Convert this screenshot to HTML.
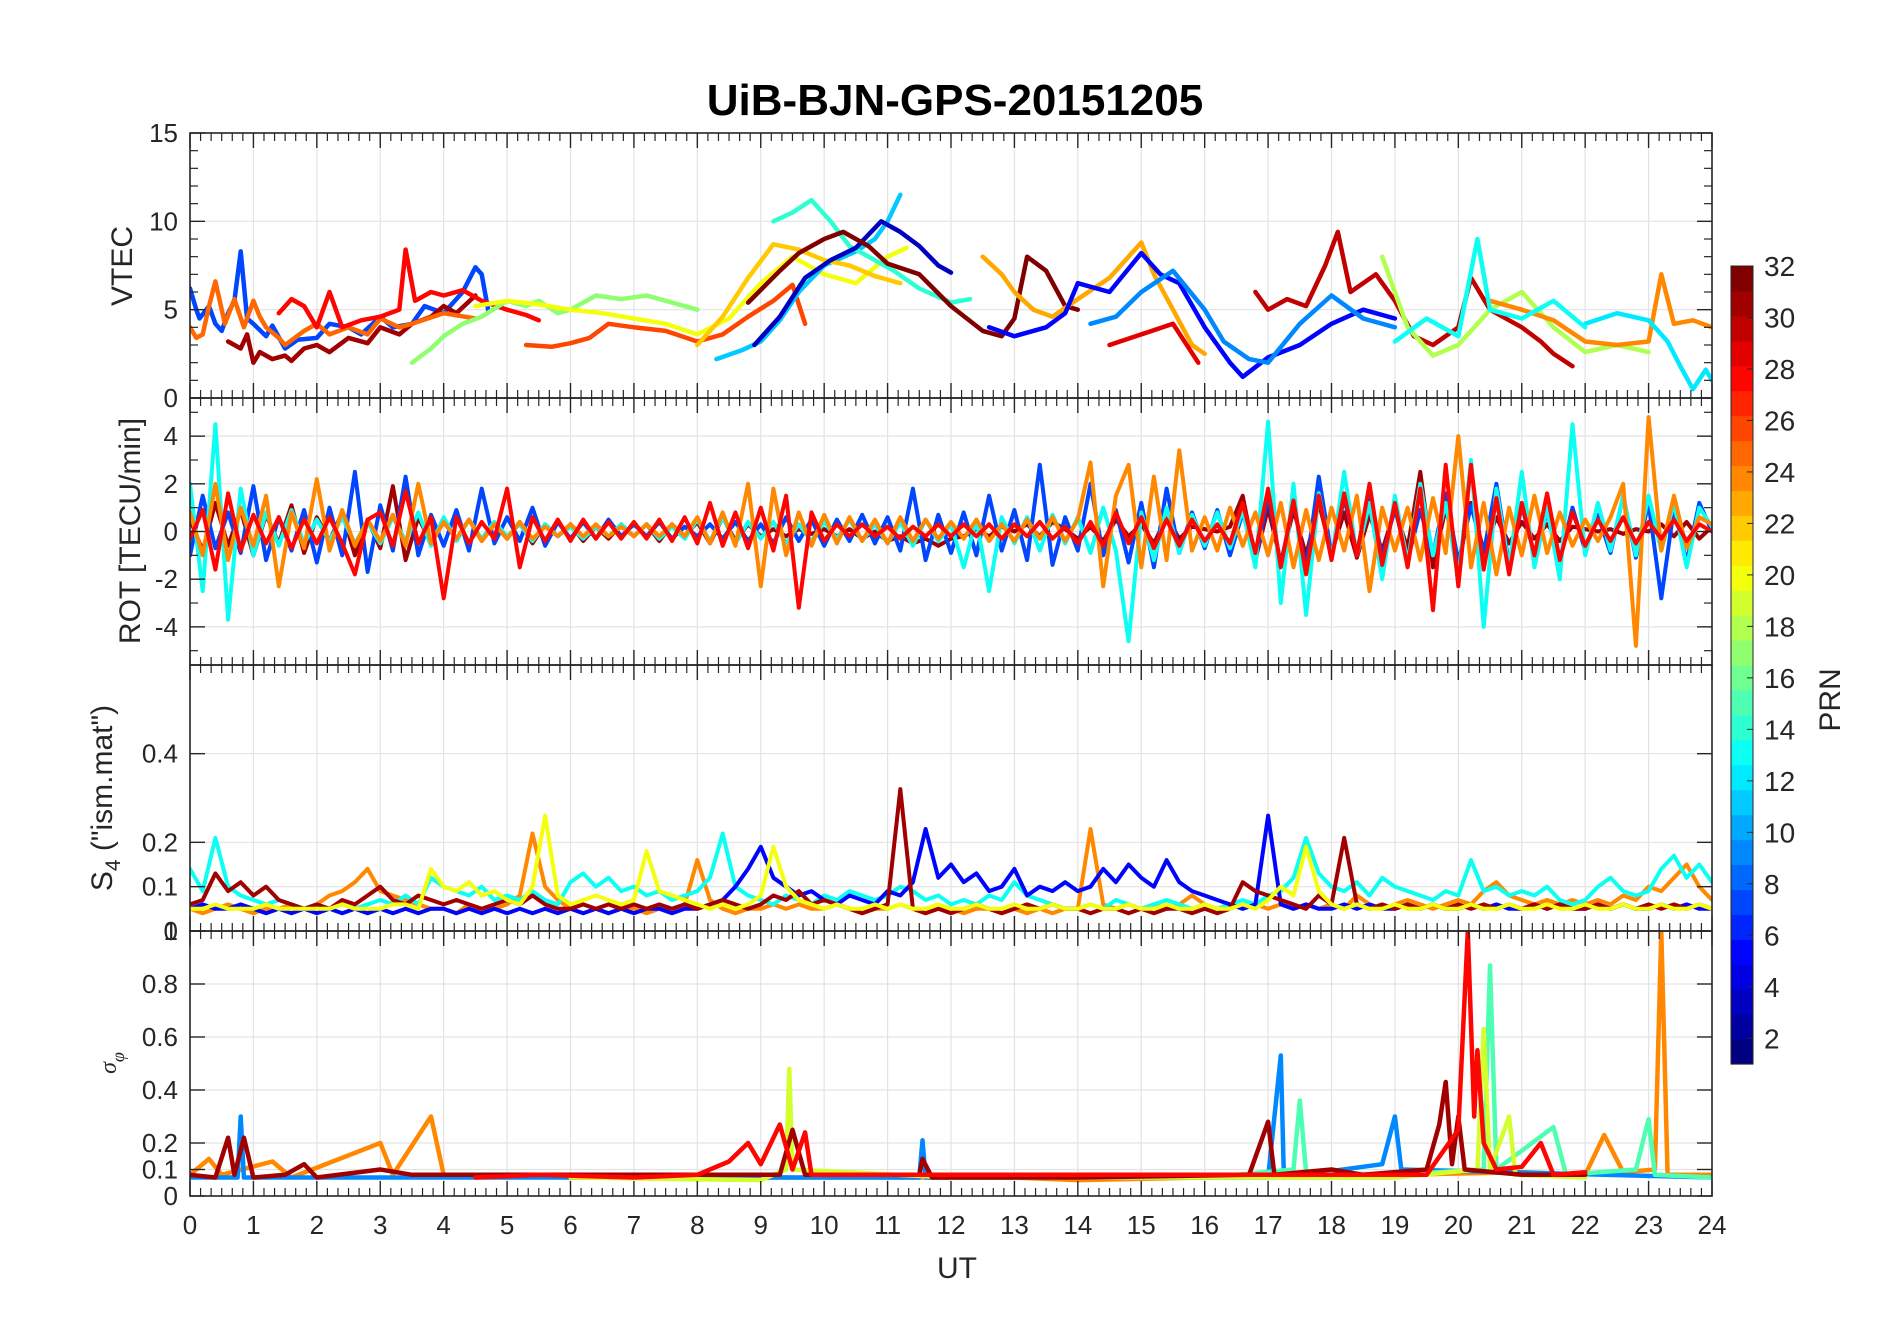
<!DOCTYPE html>
<html><head><meta charset="utf-8"><title>UiB-BJN-GPS-20151205</title>
<style>
html,body{margin:0;padding:0;background:#fff;}
svg{display:block;font-family:"Liberation Sans",Arial,sans-serif;}
</style></head>
<body>
<svg id="chart" xmlns="http://www.w3.org/2000/svg" width="1902" height="1330" viewBox="0 0 1902 1330">
<rect x="0" y="0" width="1902" height="1330" fill="#fff"/>
<text x="955" y="115" text-anchor="middle" font-size="44" font-weight="bold" fill="#000">UiB-BJN-GPS-20151205</text>
<g id="panels"></g>
</svg>
<script>
// ---------- data ----------
const xTicks = [0,1,2,3,4,5,6,7,8,9,10,11,12,13,14,15,16,17,18,19,20,21,22,23,24];
const vtecTicks = [0,5,10,15];
const rotTicks = [-4,-2,0,2,4];
const s4Ticks = [0,0.1,0.2,0.4];
const sigTicks = [0,0.1,0.2,0.4,0.6,0.8,1];
const cbTicks = [2,4,6,8,10,12,14,16,18,20,22,24,26,28,30,32];

// VTEC series: PRN list and [hour, TECU] points
const vtecPrn = [7,31,25,28,17,20,26,11,14,22,3,32,23,5,9,29,30,18,24,12,13];
const vtecPts = [
 [[0,6.2],[0.1,5],[0.15,4.5],[0.3,5.2],[0.4,4.2],[0.5,3.8],[0.6,4.8],[0.7,5.5],[0.8,8.3],[0.9,4.5],[1,4.2],[1.2,3.5],[1.3,4.1],[1.5,2.8],[1.7,3.3],[2,3.4],[2.2,4.2],[2.5,4],[2.7,3.6],[3,4.6],[3.2,4],[3.5,4.2],[3.7,5.2],[4,4.8],[4.3,6],[4.5,7.4],[4.6,7],[4.7,5]],
 [[0.6,3.2],[0.8,2.8],[0.9,3.6],[1,2],[1.1,2.6],[1.3,2.2],[1.5,2.4],[1.6,2.1],[1.8,2.8],[2,3],[2.2,2.6],[2.5,3.4],[2.8,3.1],[3,4],[3.3,3.6],[3.5,4.2],[3.8,4.6],[4,5.2],[4.2,4.8],[4.5,5.8]],
 [[0,4],[0.1,3.4],[0.2,3.6],[0.3,5.2],[0.4,6.6],[0.55,4.2],[0.7,5.6],[0.85,4],[1,5.5],[1.1,4.6],[1.2,4],[1.4,3.4],[1.5,3],[1.8,3.8],[2,4.2],[2.2,3.6],[2.5,4],[2.8,3.6],[3,4.5],[3.3,4],[3.5,4.2],[4,4.8],[4.5,4.5]],
 [[1.4,4.8],[1.6,5.6],[1.8,5.2],[2,4],[2.2,6],[2.4,4],[2.7,4.4],[3,4.6],[3.3,5],[3.4,8.4],[3.55,5.5],[3.8,6],[4,5.8],[4.3,6.1],[4.6,5.5],[5,5],[5.3,4.7],[5.5,4.4]],
 [[3.5,2],[3.8,2.8],[4,3.5],[4.3,4.2],[4.6,4.6],[5,5.5],[5.3,5.2],[5.5,5.5],[5.8,4.8],[6,5],[6.4,5.8],[6.8,5.6],[7.2,5.8],[7.6,5.4],[8,5]],
 [[4.5,5.2],[5,5.5],[5.5,5.3],[6,5],[6.5,4.8],[7,4.5],[7.5,4.2],[8,3.6],[8.5,4.5],[9,6.5],[9.5,8],[10,7],[10.5,6.5],[11,8],[11.3,8.5]],
 [[5.3,3],[5.7,2.9],[6,3.1],[6.3,3.4],[6.6,4.2],[7,4],[7.5,3.8],[8,3.2],[8.4,3.6],[8.8,4.6],[9.2,5.5],[9.5,6.4],[9.7,4.2]],
 [[8.3,2.2],[8.7,2.7],[9,3.2],[9.3,4.4],[9.6,6],[10,7.5],[10.5,8.3],[10.8,9],[11,10],[11.2,11.5]],
 [[9.2,10],[9.5,10.5],[9.8,11.2],[10.1,10],[10.4,8.6],[10.8,7.8],[11.1,7.2],[11.5,6.2],[12,5.4],[12.3,5.6]],
 [[8,3],[8.4,4.6],[8.8,6.8],[9.2,8.7],[9.6,8.4],[10,7.8],[10.4,7.5],[10.8,6.9],[11.2,6.5]],
 [[8.9,3],[9.3,4.6],[9.7,6.8],[10.1,7.8],[10.5,8.5],[10.9,10],[11.2,9.4],[11.5,8.6],[11.8,7.5],[12,7.1]],
 [[8.8,5.4],[9.3,7.2],[9.6,8.2],[10,9],[10.3,9.4],[10.7,8.6],[11,7.6],[11.5,7],[12,5.2],[12.5,3.8],[12.8,3.5],[13,4.5],[13.2,8],[13.5,7.2],[13.8,5.2],[14,5]],
 [[12.5,8],[12.8,7],[13,6],[13.3,5],[13.6,4.6],[14,5.6],[14.5,6.8],[15,8.8],[15.2,7],[15.5,5],[15.8,3],[16,2.5]],
 [[12.6,4],[13,3.5],[13.5,4],[13.8,4.8],[14,6.5],[14.5,6],[15,8.2],[15.3,7],[15.6,6.5],[16,4],[16.4,2],[16.6,1.2],[17,2.3],[17.5,3],[18,4.2],[18.5,5],[19,4.5]],
 [[14.2,4.2],[14.6,4.6],[15,6],[15.5,7.2],[16,5],[16.3,3.2],[16.7,2.2],[17,2],[17.5,4.2],[18,5.8],[18.5,4.5],[19,4]],
 [[14.5,3],[15,3.6],[15.5,4.2],[15.9,2]],
 [[16.8,6],[17,5],[17.3,5.6],[17.6,5.2],[17.9,7.5],[18.1,9.4],[18.3,6],[18.7,7],[19,5.5],[19.3,3.5],[19.6,3],[20,4],[20.2,6.8],[20.5,5],[21,4],[21.3,3.2],[21.5,2.5],[21.8,1.8]],
 [[18.8,8],[19.2,4],[19.6,2.4],[20,3],[20.5,5],[21,6],[21.5,4],[22,2.6],[22.5,3],[23,2.6]],
 [[20.5,5.5],[21,5],[21.5,4.4],[22,3.2],[22.5,3],[23,3.2],[23.2,7],[23.4,4.2],[23.7,4.4],[24,4]],
 [[22,4.2],[22.5,4.8],[23,4.4],[23.3,3.2],[23.5,1.8],[23.7,0.5],[23.9,1.6],[24,1]],
 [[19,3.2],[19.5,4.5],[20,3.5],[20.3,9],[20.5,5],[21,4.5],[21.5,5.5],[22,4]]
];

// ROT series: start hour, step (h) and values (TECU/min)
const rotPrn = [31,7,13,24,28];
const rotStart = 0;
const rotStep = 0.2;
const rotVals = [
 [0.5,-0.8,1.2,-0.6,0.9,-1.0,0.7,-0.5,1.1,-0.9,0.6,-0.4,0.8,-1.0,0.5,-0.7,1.9,-1.2,0.6,-0.5,0.4,-0.3,0.5,-0.4,0.3,-0.3,0.4,-0.5,0.3,-0.2,0.3,-0.4,0.2,-0.3,0.3,-0.2,0.3,-0.4,0.3,-0.2,0.4,-0.5,0.6,-0.4,0.3,-0.2,0.1,-0.2,0.1,-0.1,0.1,-0.2,0.1,-0.3,0.0,-0.4,-0.2,-0.5,-0.3,-0.6,-0.3,-0.2,0.1,-0.2,0.2,0.0,0.3,-0.2,0.4,0.1,-0.3,0.2,-0.4,0.5,-0.2,0.3,-0.5,0.6,-0.3,0.2,0.1,0.0,0.2,1.5,-1.2,1.0,-1.3,0.9,-1.0,1.2,-0.9,0.8,-1.1,0.7,-0.8,0.9,-0.7,2.5,-1.5,1.0,-1.4,1.2,-0.8,0.6,-0.5,0.4,-0.3,0.3,-0.4,0.2,0.1,0.0,0.1,-0.1,0.1,0.0,0.3,-0.2,0.4,-0.3,0.2],
 [-1.0,1.5,-0.7,0.8,-0.9,1.9,-1.2,0.6,-0.8,0.9,-1.3,1.0,-1.0,2.5,-1.7,1.1,-0.8,2.3,-1.0,0.7,-0.6,0.9,-0.8,1.8,-0.5,0.6,-0.4,1.0,-0.6,0.4,-0.3,0.4,-0.3,0.5,-0.2,0.3,-0.2,0.4,-0.3,0.2,-0.2,0.3,-0.3,0.4,-0.4,0.3,-0.5,0.6,-0.4,0.5,-0.6,0.5,-0.4,0.7,-0.5,0.6,-0.8,1.8,-1.2,0.7,-0.9,0.8,-1.0,1.5,-0.8,0.9,-1.2,2.8,-1.4,0.6,-0.8,2.0,-1.0,0.9,-1.3,1.2,-1.5,1.8,-0.9,0.8,-0.7,0.9,-1.0,0.8,-1.2,1.5,-1.4,1.2,-1.6,2.3,-1.0,1.4,-0.9,1.7,-1.1,1.0,-1.2,0.9,-1.0,1.6,-1.3,1.1,-0.9,2.0,-1.4,1.1,-1.0,0.8,-1.2,1.0,-0.8,0.7,-0.9,1.5,-1.1,1.2,-2.8,1.0,-1.3,1.2,0.0],
 [2.0,-2.5,4.5,-3.7,1.8,-1.0,0.8,-0.6,0.9,-0.5,0.5,-0.4,0.6,-0.5,0.4,-0.5,0.6,-0.4,0.8,-0.6,0.6,-0.4,0.5,-0.3,0.4,-0.2,0.3,-0.4,0.3,-0.2,0.2,-0.3,0.2,-0.2,0.3,-0.2,0.3,-0.3,0.2,-0.3,0.5,-0.4,0.6,-0.5,0.4,-0.3,0.4,-0.5,0.3,-0.4,0.4,-0.3,0.5,-0.4,0.3,-0.5,0.4,-0.6,0.5,-0.4,0.3,-1.5,0.5,-2.5,0.6,-0.5,0.6,-0.8,0.7,-0.5,0.6,-0.9,1.0,-0.8,-4.6,0.8,-1.2,1.0,-0.9,0.7,-0.6,0.8,-0.7,0.9,-1.5,4.6,-3.0,2.0,-3.5,1.6,-1.2,2.5,-1.0,1.2,-2.0,1.5,-1.3,2.0,-1.0,1.2,-2.0,3.0,-4.0,1.8,-1.5,2.5,-1.5,1.0,-2.0,4.5,-1.0,1.2,-0.8,1.5,-1.0,1.5,-0.8,1.2,-1.5,1.0,0.2],
 [0.8,-1.0,2.0,-1.2,1.0,-0.6,1.5,-2.3,0.8,-0.7,2.2,-0.8,0.9,-0.6,0.5,-0.4,0.7,-0.6,2.0,-0.5,0.4,-0.3,0.5,-0.4,0.3,-0.3,0.4,-0.3,0.2,-0.2,0.3,-0.2,0.3,-0.2,0.2,-0.2,0.3,-0.2,0.3,-0.2,0.6,-0.5,0.8,-0.6,2.0,-2.3,1.8,-1.0,0.8,-0.6,0.7,-0.5,0.6,-0.4,0.5,-0.5,0.6,-0.4,0.5,-0.3,0.4,-0.3,0.5,-0.4,0.3,-0.4,0.5,-0.3,0.6,-0.4,0.5,2.9,-2.3,1.5,2.8,-1.5,2.3,-1.2,3.4,-0.8,0.6,-0.8,1.0,-0.6,0.8,-1.0,1.2,-1.5,0.9,-1.2,1.0,-0.8,1.5,-2.5,1.0,-0.8,1.0,-1.2,1.4,-0.9,4.0,-1.5,1.2,-1.8,1.0,-1.0,1.5,-0.9,0.8,-0.6,0.5,-0.4,0.6,2.0,-4.8,4.8,-0.8,1.5,-0.7,0.6,0.3],
 [-0.3,0.9,-1.6,1.6,-0.8,0.7,-0.5,0.6,-0.7,0.5,-0.5,0.6,-0.5,-1.8,0.5,0.8,-0.6,1.7,-0.5,0.6,-2.8,0.6,-0.5,0.4,-0.3,1.8,-1.5,0.6,-0.4,0.5,-0.4,0.5,-0.3,0.4,-0.3,0.4,-0.3,0.5,-0.4,0.6,-0.5,1.2,-0.6,0.8,-0.7,1.0,-0.8,1.5,-3.2,0.8,-0.4,0.3,-0.2,0.3,-0.2,0.2,-0.3,0.2,-0.2,0.3,-0.2,0.3,-0.2,0.3,-0.3,0.3,-0.2,0.4,-0.3,0.2,-0.5,0.4,-0.6,0.8,-0.5,0.6,-0.7,0.5,-0.6,0.5,-0.4,0.3,-0.5,1.2,-0.9,1.8,-1.5,1.3,-1.8,1.5,-1.2,1.6,-1.0,2.0,-1.4,1.2,-1.5,1.8,-3.3,2.8,-2.3,2.8,-1.6,1.4,-1.8,1.2,-1.0,1.6,-1.2,0.8,-0.6,0.5,-0.4,0.6,-0.5,0.4,-0.3,0.5,-0.4,0.3,0.0]
];

// S4 series: start hour, step (h) and values
const s4Prn = [24,13,5,31,20];
const s4Start = 0;
const s4Step = 0.2;
const s4Vals = [
 [0.05,0.04,0.05,0.06,0.05,0.04,0.05,0.05,0.06,0.05,0.06,0.08,0.09,0.11,0.14,0.09,0.08,0.07,0.06,0.05,0.05,0.04,0.06,0.05,0.05,0.06,0.08,0.22,0.10,0.07,0.05,0.06,0.05,0.04,0.05,0.05,0.04,0.05,0.05,0.06,0.16,0.07,0.05,0.04,0.05,0.05,0.06,0.05,0.06,0.05,0.05,0.06,0.05,0.04,0.05,0.05,0.06,0.05,0.04,0.05,0.05,0.04,0.05,0.05,0.04,0.05,0.04,0.05,0.04,0.05,0.05,0.23,0.06,0.05,0.06,0.05,0.06,0.05,0.06,0.08,0.06,0.05,0.06,0.05,0.06,0.05,0.06,0.05,0.06,0.05,0.06,0.05,0.08,0.06,0.05,0.06,0.07,0.06,0.05,0.06,0.07,0.06,0.09,0.11,0.08,0.07,0.06,0.07,0.06,0.07,0.06,0.07,0.06,0.08,0.07,0.10,0.09,0.12,0.15,0.10,0.07],
 [0.14,0.09,0.21,0.10,0.08,0.07,0.06,0.07,0.06,0.05,0.06,0.05,0.06,0.05,0.06,0.07,0.06,0.08,0.06,0.12,0.10,0.09,0.08,0.10,0.07,0.08,0.07,0.09,0.07,0.06,0.11,0.13,0.10,0.12,0.09,0.10,0.08,0.09,0.07,0.08,0.09,0.12,0.22,0.10,0.08,0.07,0.06,0.08,0.07,0.06,0.08,0.07,0.09,0.08,0.07,0.08,0.10,0.09,0.07,0.08,0.06,0.07,0.06,0.08,0.07,0.11,0.08,0.07,0.06,0.05,0.05,0.06,0.05,0.07,0.06,0.05,0.06,0.07,0.06,0.05,0.06,0.05,0.06,0.07,0.06,0.08,0.09,0.12,0.21,0.13,0.10,0.09,0.11,0.08,0.12,0.10,0.09,0.08,0.07,0.09,0.08,0.16,0.09,0.10,0.08,0.09,0.08,0.10,0.07,0.06,0.07,0.10,0.12,0.09,0.08,0.09,0.14,0.17,0.12,0.15,0.11],
 [0.05,0.06,0.05,0.05,0.06,0.05,0.04,0.05,0.04,0.05,0.04,0.05,0.04,0.05,0.04,0.05,0.04,0.05,0.04,0.05,0.05,0.04,0.05,0.04,0.05,0.04,0.05,0.04,0.05,0.04,0.05,0.04,0.05,0.04,0.05,0.04,0.05,0.05,0.04,0.05,0.05,0.06,0.07,0.10,0.14,0.19,0.12,0.10,0.08,0.09,0.07,0.06,0.08,0.07,0.06,0.09,0.08,0.11,0.23,0.12,0.15,0.11,0.13,0.09,0.10,0.14,0.08,0.10,0.09,0.11,0.09,0.10,0.14,0.11,0.15,0.12,0.10,0.16,0.11,0.09,0.08,0.07,0.06,0.05,0.06,0.26,0.06,0.05,0.06,0.05,0.05,0.06,0.05,0.06,0.05,0.05,0.06,0.05,0.06,0.05,0.05,0.06,0.05,0.06,0.05,0.05,0.06,0.05,0.06,0.05,0.05,0.06,0.05,0.06,0.05,0.05,0.06,0.05,0.06,0.05,0.05],
 [0.06,0.07,0.13,0.09,0.11,0.08,0.10,0.07,0.06,0.05,0.06,0.05,0.07,0.06,0.08,0.10,0.07,0.06,0.08,0.07,0.06,0.07,0.06,0.05,0.06,0.07,0.06,0.08,0.06,0.05,0.05,0.06,0.05,0.06,0.05,0.06,0.05,0.06,0.05,0.06,0.05,0.06,0.07,0.06,0.05,0.06,0.08,0.07,0.09,0.06,0.07,0.06,0.05,0.04,0.05,0.06,0.32,0.05,0.04,0.05,0.04,0.05,0.06,0.05,0.04,0.05,0.06,0.05,0.06,0.05,0.05,0.04,0.05,0.05,0.04,0.05,0.04,0.05,0.05,0.04,0.05,0.04,0.05,0.11,0.09,0.08,0.07,0.06,0.05,0.08,0.06,0.21,0.06,0.05,0.06,0.05,0.06,0.05,0.06,0.05,0.06,0.05,0.06,0.05,0.06,0.05,0.06,0.05,0.06,0.05,0.05,0.06,0.05,0.06,0.05,0.06,0.05,0.06,0.05,0.06,0.05],
 [0.05,0.05,0.06,0.05,0.05,0.05,0.06,0.05,0.05,0.05,0.05,0.05,0.06,0.05,0.05,0.05,0.06,0.06,0.05,0.14,0.10,0.09,0.11,0.08,0.09,0.07,0.06,0.10,0.26,0.08,0.06,0.07,0.08,0.07,0.06,0.07,0.18,0.09,0.08,0.07,0.06,0.05,0.06,0.05,0.06,0.08,0.19,0.10,0.07,0.06,0.05,0.06,0.05,0.05,0.06,0.05,0.06,0.05,0.05,0.06,0.05,0.05,0.06,0.05,0.05,0.06,0.05,0.05,0.06,0.05,0.05,0.06,0.05,0.05,0.06,0.05,0.05,0.06,0.05,0.05,0.06,0.05,0.05,0.06,0.05,0.07,0.10,0.08,0.19,0.09,0.06,0.05,0.06,0.05,0.05,0.06,0.05,0.05,0.06,0.05,0.05,0.06,0.05,0.05,0.06,0.05,0.05,0.06,0.05,0.05,0.06,0.05,0.05,0.06,0.05,0.05,0.06,0.05,0.05,0.06,0.05]
];

// sigma-phi series: PRN list and [hour, radians] points
const sigPrn = [24,9,15,19,31,28];
const sigPts = [
 [[0,0.08],[0.3,0.14],[0.5,0.08],[1.3,0.13],[1.6,0.07],[3,0.2],[3.2,0.08],[3.8,0.3],[4,0.08],[6,0.07],[9,0.07],[10,0.07],[13,0.07],[14,0.06],[16,0.07],[19,0.08],[21,0.09],[22,0.08],[22.3,0.23],[22.6,0.09],[23.1,0.1],[23.2,1.0],[23.3,0.08],[24,0.08]],
 [[0,0.07],[0.75,0.07],[0.8,0.3],[0.85,0.07],[3,0.07],[9,0.07],[11.5,0.07],[11.55,0.21],[11.6,0.07],[17,0.07],[17.2,0.53],[17.25,0.07],[18.8,0.12],[19,0.3],[19.1,0.1],[24,0.07]],
 [[15,0.07],[16.5,0.08],[17.4,0.1],[17.5,0.36],[17.6,0.09],[19,0.08],[20.4,0.1],[20.5,0.87],[20.6,0.1],[21.5,0.26],[21.7,0.08],[22.8,0.1],[23,0.29],[23.1,0.08],[24,0.07]],
 [[6,0.07],[9,0.06],[9.4,0.1],[9.45,0.48],[9.5,0.1],[12,0.07],[19,0.07],[20.3,0.1],[20.4,0.63],[20.5,0.1],[20.8,0.3],[20.9,0.08],[22,0.07]],
 [[0,0.08],[0.4,0.07],[0.6,0.22],[0.7,0.08],[0.85,0.22],[1,0.07],[1.5,0.08],[1.8,0.12],[2,0.07],[3,0.1],[3.5,0.08],[9.3,0.08],[9.5,0.25],[9.7,0.08],[11.5,0.08],[11.55,0.14],[11.7,0.07],[14,0.07],[16.7,0.08],[17,0.28],[17.1,0.08],[18,0.1],[18.5,0.08],[19.5,0.1],[19.7,0.27],[19.8,0.43],[19.9,0.12],[20,0.3],[20.1,0.1],[21,0.08],[22,0.08]],
 [[4.5,0.07],[5.5,0.08],[7,0.07],[8,0.08],[8.5,0.13],[8.8,0.2],[9,0.12],[9.3,0.27],[9.5,0.1],[9.7,0.24],[9.8,0.08],[15,0.08],[19.5,0.08],[20,0.25],[20.15,1.0],[20.25,0.3],[20.3,0.55],[20.4,0.2],[20.6,0.1],[21,0.11],[21.3,0.2],[21.5,0.08],[22,0.09]]
];

// ---------- rendering ----------
const NS = 'http://www.w3.org/2000/svg';
const L = 190, R = 1712;
const X = t => L + (t - 0) * (R - L) / 24;
const panels = [
 {name:'vtec', top:133, bot:398, min:0, max:15, ticks:vtecTicks, minor:[1,2,3,4,6,7,8,9,11,12,13,14]},
 {name:'rot', top:398, bot:665, min:-5.6, max:5.6, ticks:rotTicks, minor:[-5,-3,-1,1,3,5]},
 {name:'s4', top:665, bot:931, min:0, max:0.6, ticks:s4Ticks, minor:[]},
 {name:'sigma', top:931, bot:1196, min:0, max:1, ticks:sigTicks, minor:[]}
];
panels.forEach(p => { p.Y = v => p.bot - (v - p.min) * (p.bot - p.top) / (p.max - p.min); });

function jet(prn){
  const f = (prn - 1) / 31;
  const c = v => Math.round(255 * Math.max(0, Math.min(1, v)));
  return `rgb(${c(1.5-Math.abs(4*f-3))},${c(1.5-Math.abs(4*f-2))},${c(1.5-Math.abs(4*f-1))})`;
}
function mk(tag, attrs, parent){
  const e = document.createElementNS(NS, tag);
  for (const k in attrs) e.setAttribute(k, attrs[k]);
  parent.appendChild(e);
  return e;
}
const root = document.getElementById('panels');
const defs = mk('defs', {}, root);

panels.forEach((p, pi) => {
  const g = mk('g', {}, root);
  
  
  const cp = mk('clipPath', {id:'clip' + pi}, defs);
  mk('rect', {x:L, y:p.top, width:R-L, height:p.bot-p.top}, cp);
  xTicks.forEach(t => {
    const gl = mk('line', {x1:X(t), x2:X(t), y1:p.top, y2:p.bot, stroke:'#e3e3e3', 'stroke-width':1.2}, g);
    
    
  });
  p.ticks.forEach(v => {
    const gl = mk('line', {x1:L, x2:R, y1:p.Y(v), y2:p.Y(v), stroke:'#e3e3e3', 'stroke-width':1.2}, g);
    
    
  });
  const sg = mk('g', {'clip-path':'url(#clip' + pi + ')'}, g);
  
  
  p.sg = sg;
});

function drawPts(p, pts, prn, w){
  const d = pts.map(q => X(q[0]).toFixed(1) + ',' + p.Y(q[1]).toFixed(1)).join(' ');
  const pl = mk('polyline', {points:d, fill:'none', stroke:jet(prn), 'stroke-width':w, 'stroke-linejoin':'round', 'stroke-linecap':'round'}, p.sg);
  
  
}
vtecPts.forEach((pts, i) => drawPts(panels[0], pts, vtecPrn[i], 4.5));
rotVals.forEach((vals, i) => drawPts(panels[1], vals.map((v, j) => [rotStart + j * rotStep, v]), rotPrn[i], 4));
s4Vals.forEach((vals, i) => drawPts(panels[2], vals.map((v, j) => [s4Start + j * s4Step, v]), s4Prn[i], 4));
sigPts.forEach((pts, i) => drawPts(panels[3], pts, sigPrn[i], 4.5));

panels.forEach((p, pi) => {
  const g = mk('g', {}, root);
  
  
  mk('rect', {x:L, y:p.top, width:R-L, height:p.bot-p.top, fill:'none', stroke:'#262626', 'stroke-width':1.6}, g);
  xTicks.forEach(t => {
    mk('line', {x1:X(t), x2:X(t), y1:p.bot, y2:p.bot-15, stroke:'#262626', 'stroke-width':1.4}, g);
    mk('line', {x1:X(t), x2:X(t), y1:p.top, y2:p.top+15, stroke:'#262626', 'stroke-width':1.4}, g);
    if (t < 24) for (let k = 1; k < 6; k++) {
      const xm = X(t + k / 6);
      mk('line', {x1:xm, x2:xm, y1:p.bot, y2:p.bot-8, stroke:'#262626', 'stroke-width':1.2}, g);
      mk('line', {x1:xm, x2:xm, y1:p.top, y2:p.top+8, stroke:'#262626', 'stroke-width':1.2}, g);
    }
  });
  p.ticks.forEach(v => {
    mk('line', {x1:L, x2:L+15, y1:p.Y(v), y2:p.Y(v), stroke:'#262626', 'stroke-width':1.4}, g);
    mk('line', {x1:R, x2:R-15, y1:p.Y(v), y2:p.Y(v), stroke:'#262626', 'stroke-width':1.4}, g);
    const tl = mk('text', {x:178, y:p.Y(v)+9, 'text-anchor':'end', 'font-size':26, fill:'#262626'}, g);
    tl.textContent = String(v);
    
    
  });
  p.minor.forEach(v => {
    mk('line', {x1:L, x2:L+8, y1:p.Y(v), y2:p.Y(v), stroke:'#262626', 'stroke-width':1.2}, g);
    mk('line', {x1:R, x2:R-8, y1:p.Y(v), y2:p.Y(v), stroke:'#262626', 'stroke-width':1.2}, g);
  });
});
const xg = mk('g', {}, root);


xTicks.forEach(t => {
  const tl = mk('text', {x:X(t), y:1234, 'text-anchor':'middle', 'font-size':26, fill:'#262626'}, xg);
  tl.textContent = String(t);
  
  
});
const cb = mk('g', {}, root);


const cbTop = 266, cbBot = 1064, cbL = 1731, cbW = 22;
const cbY = v => cbBot - (v - 1) * (cbBot - cbTop) / 31;
for (let k = 1; k <= 32; k++) {
  const y1 = cbBot - (k - 1) * (cbBot - cbTop) / 32, y0 = cbBot - k * (cbBot - cbTop) / 32;
  mk('rect', {x:cbL, y:y0, width:cbW, height:y1 - y0 + 0.6, fill:jet(k)}, cb);
}
mk('rect', {x:cbL, y:cbTop, width:cbW, height:cbBot-cbTop, fill:'none', stroke:'#262626', 'stroke-width':1}, cb);
cbTicks.forEach(v => {
  mk('line', {x1:cbL+cbW-6, x2:cbL+cbW, y1:cbY(v), y2:cbY(v), stroke:'#262626', 'stroke-width':1}, cb);
  const tl = mk('text', {x:1764, y:cbY(v)+10, 'font-size':28, fill:'#262626'}, cb);
  tl.textContent = String(v);
  
  
});
</script>
<svg style="position:absolute;left:0;top:0" width="1902" height="1330" xmlns="http://www.w3.org/2000/svg">
<text x="957" y="1278" text-anchor="middle" font-size="30" fill="#262626">UT</text>
<text transform="translate(132,266) rotate(-90)" text-anchor="middle" font-size="30" fill="#262626">VTEC</text>
<text transform="translate(140,531) rotate(-90)" text-anchor="middle" font-size="30" fill="#262626">ROT [TECU/min]</text>
<text transform="translate(112,798) rotate(-90)" text-anchor="middle" font-size="30" fill="#262626">S<tspan font-size="21" dy="8">4</tspan><tspan dy="-8"> ("ism.mat")</tspan></text>
<text transform="translate(116,1063) rotate(-90)" text-anchor="middle" font-size="24" font-style="italic" fill="#262626" font-family="Liberation Serif, serif">σ<tspan font-size="18" dy="8">φ</tspan></text>
<text transform="translate(1840,700) rotate(-90)" text-anchor="middle" font-size="30" fill="#262626">PRN</text>
</svg>
</body></html>
